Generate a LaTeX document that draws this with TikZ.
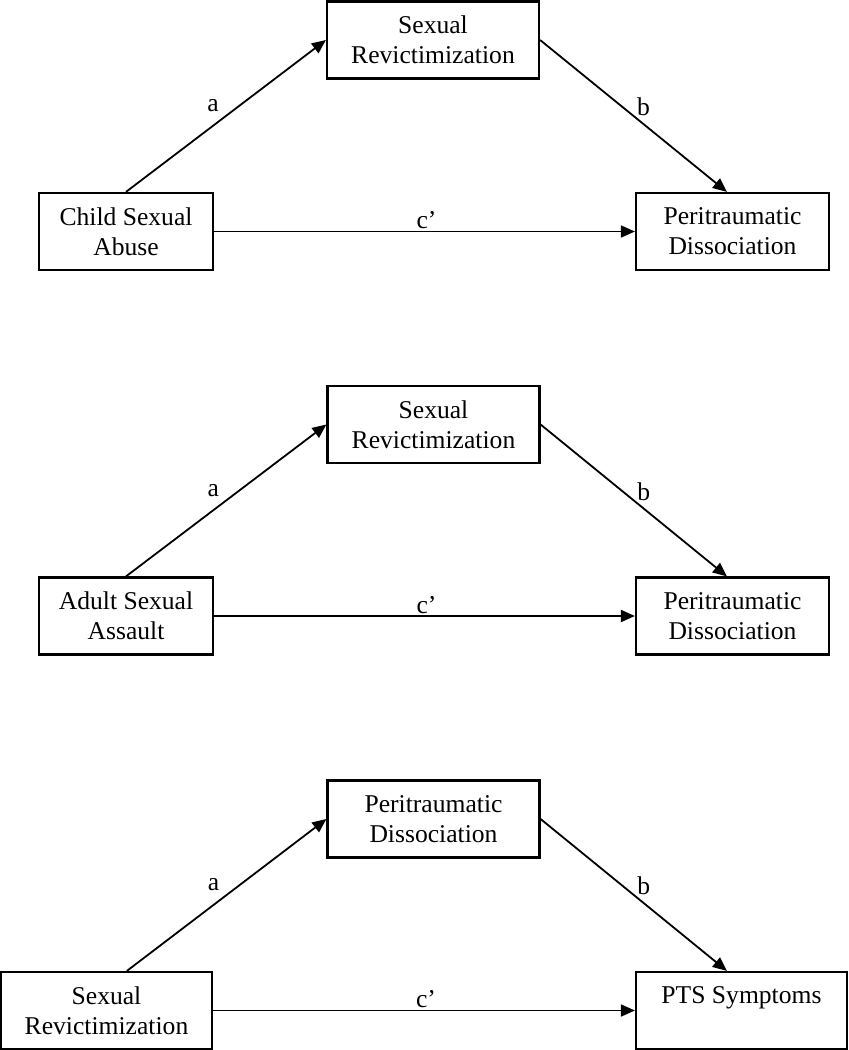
\documentclass[tikz,border=0pt]{standalone}
\usepackage{fontspec}
\setmainfont{Liberation Serif}
\usetikzlibrary{arrows.meta}

\tikzset{
    varbox/.style={draw, line width=1.1pt, align=center, inner sep=0pt,
        minimum height=38.5pt, font=\fontsize{12.8}{15}\selectfont},
    effect/.style={line width=0.9pt, -{Triangle[length=7pt,width=6pt]}},
    lbl/.style={inner sep=0pt, font=\fontsize{12.8}{15}\selectfont}
}

\begin{document}
\begin{tikzpicture}[x=0.5pt,y=-0.5pt]
    \useasboundingbox (0,0) rectangle (848,1050);

    % first model
    \node[varbox, minimum width=106pt] (sr1) at (433,40) {Sexual\\Revictimization};
    \node[varbox, minimum width=87pt] (csa) at (126,231.5) {Child Sexual\\Abuse};
    \node[varbox, minimum width=96.5pt] (pd1) at (732.5,231.5) {Peritraumatic\\Dissociation};

    \draw[effect] (csa.north) -- (sr1.west) node[lbl, midway, shift={(-13,-10)}] {a};
    \draw[effect] (sr1.east) -- ([xshift=46pt]pd1.north west) node[lbl, midway, shift={(10,-9)}] {b};
    \draw[effect] (csa.east) -- (pd1.west) node[lbl, midway, shift={(2,-11)}] {c’};

    % second model
    \node[varbox, minimum width=106pt] (sr2) at (433.5,424.5) {Sexual\\Revictimization};
    \node[varbox, minimum width=87pt] (asa) at (126,616) {Adult Sexual\\Assault};
    \node[varbox, minimum width=96.5pt] (pd2) at (732.5,616) {Peritraumatic\\Dissociation};

    \draw[effect] (asa.north) -- (sr2.west) node[lbl, midway, shift={(-13,-10)}] {a};
    \draw[effect] (sr2.east) -- ([xshift=46pt]pd2.north west) node[lbl, midway, shift={(10,-9)}] {b};
    \draw[effect] (asa.east) -- (pd2.west) node[lbl, midway, shift={(2,-11)}] {c’};

    % third model
    \node[varbox, minimum width=106pt] (pd3) at (433.5,819) {Peritraumatic\\Dissociation};
    \node[varbox, minimum width=105.5pt] (sr3) at (106.5,1010.5) {Sexual\\Revictimization};
    \node[varbox, minimum width=105.5pt] (pts) at (741.5,1010.5) {PTS Symptoms\\\phantom{R}};

    \draw[effect] ([xshift=63.5pt]sr3.north west) -- (pd3.west) node[lbl, midway, shift={(-13,-10)}] {a};
    \draw[effect] (pd3.east) -- ([xshift=46pt]pts.north west) node[lbl, midway, shift={(10,-9)}] {b};
    \draw[effect] (sr3.east) -- (pts.west) node[lbl, midway, shift={(2,-11)}] {c’};
\end{tikzpicture}
\end{document}
